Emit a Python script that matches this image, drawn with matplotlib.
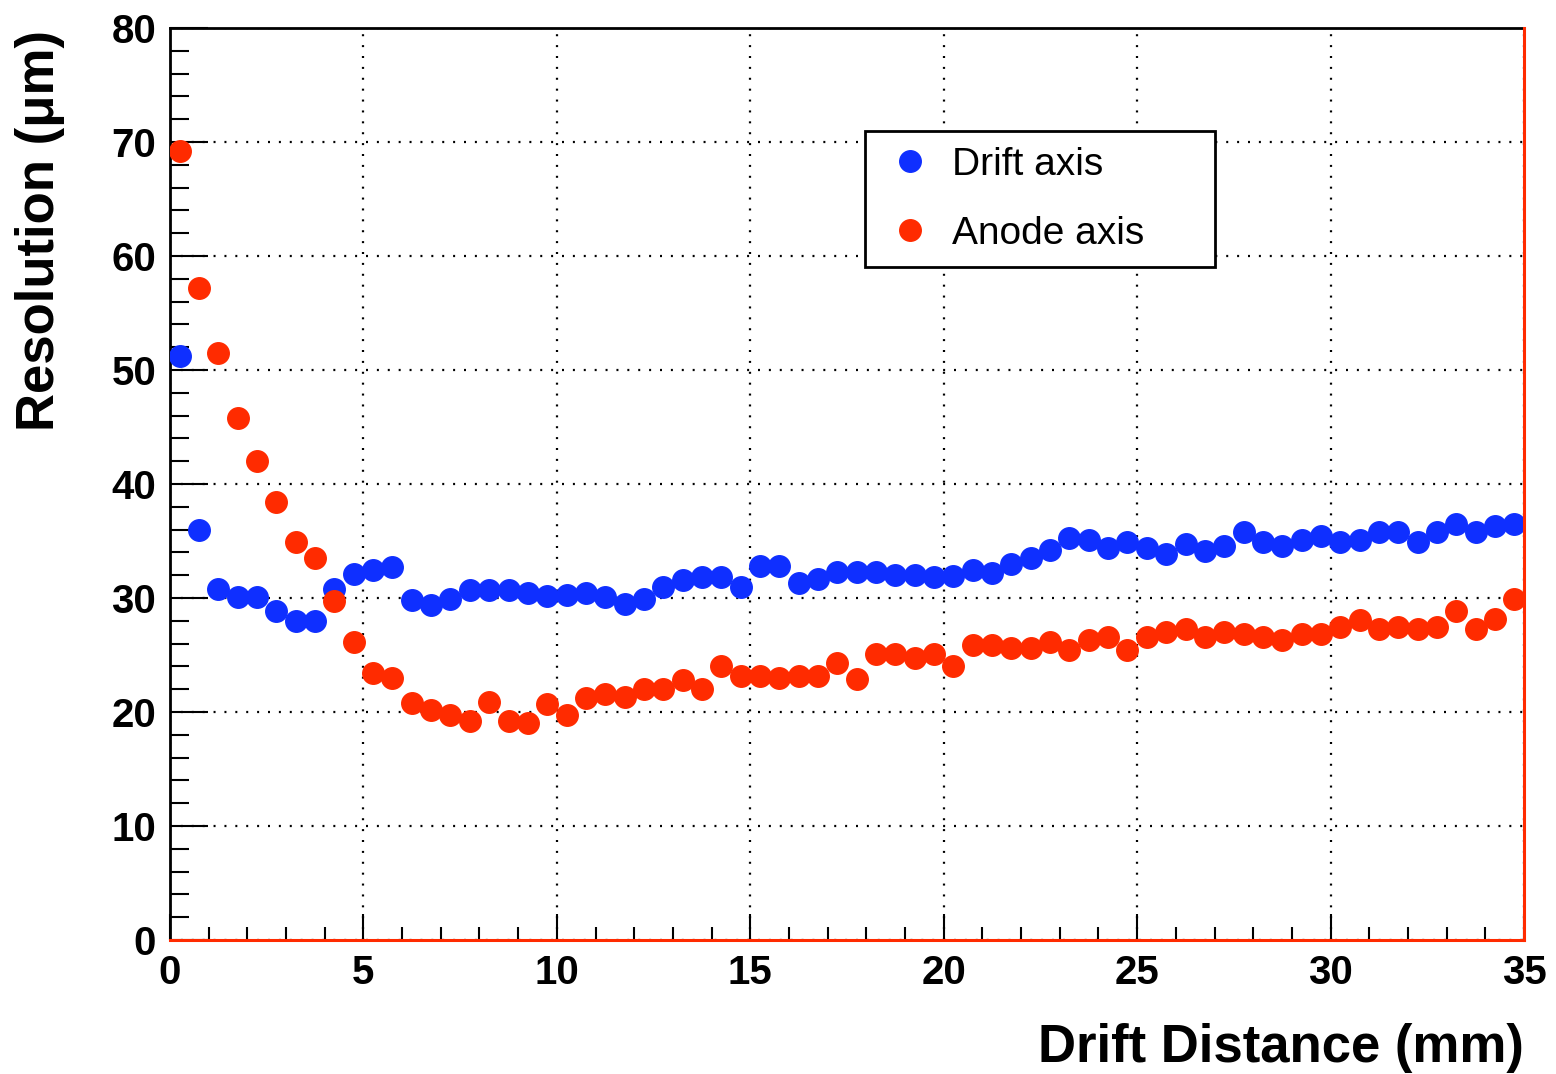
import numpy as np
import matplotlib.pyplot as plt
from matplotlib.ticker import MultipleLocator

# bin centres (mm)
distance = [0.25, 0.75, 1.25, 1.75, 2.25, 2.75, 3.25, 3.75, 4.25, 4.75,
            5.25, 5.75, 6.25, 6.75, 7.25, 7.75, 8.25, 8.75, 9.25, 9.75,
            10.25, 10.75, 11.25, 11.75, 12.25, 12.75, 13.25, 13.75, 14.25, 14.75,
            15.25, 15.75, 16.25, 16.75, 17.25, 17.75, 18.25, 18.75, 19.25, 19.75,
            20.25, 20.75, 21.25, 21.75, 22.25, 22.75, 23.25, 23.75, 24.25, 24.75,
            25.25, 25.75, 26.25, 26.75, 27.25, 27.75, 28.25, 28.75, 29.25, 29.75,
            30.25, 30.75, 31.25, 31.75, 32.25, 32.75, 33.25, 33.75, 34.25, 34.75]

# resolution along drift axis (um)
drift_res = [51.2, 36.0, 30.8, 30.1, 30.1, 28.9, 28.0, 28.0, 30.8, 32.1,
             32.5, 32.7, 29.8, 29.4, 29.9, 30.7, 30.7, 30.7, 30.4, 30.2,
             30.3, 30.4, 30.1, 29.5, 29.9, 31.0, 31.6, 31.8, 31.8, 31.0,
             32.8, 32.8, 31.3, 31.7, 32.3, 32.3, 32.3, 32.0, 32.0, 31.8,
             31.9, 32.5, 32.2, 33.0, 33.5, 34.2, 35.3, 35.1, 34.4, 34.9,
             34.4, 33.9, 34.7, 34.1, 34.6, 35.8, 34.9, 34.6, 35.1, 35.4,
             34.9, 35.1, 35.8, 35.8, 34.9, 35.8, 36.5, 35.8, 36.3, 36.5]

# resolution along anode axis (um)
anode_res = [69.2, 57.2, 51.5, 45.8, 42.0, 38.4, 34.9, 33.5, 29.7, 26.1,
             23.4, 23.0, 20.8, 20.2, 19.7, 19.2, 20.9, 19.2, 19.0, 20.7,
             19.7, 21.2, 21.6, 21.3, 22.0, 22.0, 22.8, 22.0, 24.0, 23.2,
             23.2, 23.0, 23.2, 23.2, 24.3, 22.9, 25.1, 25.1, 24.7, 25.1,
             24.0, 25.9, 25.9, 25.6, 25.6, 26.1, 25.4, 26.3, 26.6, 25.4,
             26.6, 27.0, 27.3, 26.6, 27.0, 26.8, 26.6, 26.3, 26.8, 26.8,
             27.5, 28.1, 27.3, 27.5, 27.3, 27.5, 28.9, 27.3, 28.2, 29.9]

plt.rcParams['font.family'] = ['Liberation Sans', 'DejaVu Sans']

fig = plt.figure(figsize=(15.56, 10.74), dpi=100)
ax = fig.add_axes([170/1556, 1 - 940/1074, (1524 - 170)/1556, (940 - 28)/1074])

ax.plot(distance, drift_res, 'o', color='#0f2fff', ms=15.5, mec='#0f2fff',
        label='Drift axis', zorder=3)
ax.plot(distance, anode_res, 'o', color='#ff2b00', ms=15.5, mec='#ff2b00',
        label='Anode axis', zorder=3)

ax.set_xlim(0, 35)
ax.set_ylim(0, 80)
ax.xaxis.set_major_locator(MultipleLocator(5))
ax.xaxis.set_minor_locator(MultipleLocator(1))
ax.yaxis.set_major_locator(MultipleLocator(10))
ax.yaxis.set_minor_locator(MultipleLocator(2))

ax.grid(True, which='major', color='black', lw=1.6, ls=(0, (0.9, 4.0)))
ax.set_axisbelow(True)

ax.tick_params(axis='both', which='both', direction='in', width=1.5,
               color='black', top=False, right=False)
ax.tick_params(axis='y', which='major', length=27, pad=10)
ax.tick_params(axis='y', which='minor', length=14)
ax.tick_params(axis='x', which='major', length=19, pad=10)
ax.tick_params(axis='x', which='minor', length=9.5)
for lab in ax.get_xticklabels() + ax.get_yticklabels():
    lab.set_fontsize(29)
    lab.set_fontweight('bold')

for s in ax.spines.values():
    s.set_linewidth(2)
    s.set_color('black')
# red frame lines along bottom and right edge
ax.axhline(0, color='#ff2b00', lw=2.2, zorder=4, clip_on=False)
ax.axvline(35, color='#ff2b00', lw=2.2, zorder=4, clip_on=False)

leg = ax.legend(loc='upper left', mode='expand',
                bbox_to_anchor=(865/1556, 1 - 267/1074, 350/1556, 136/1074),
                bbox_transform=fig.transFigure, borderaxespad=0,
                fontsize=28, frameon=True, fancybox=False, framealpha=1,
                edgecolor='black', numpoints=1, handlelength=1.5,
                handletextpad=0.35, borderpad=0.4, labelspacing=0.85,
                markerscale=1.0)
leg.get_frame().set_linewidth(2)

fig.text(1524/1556, 1 - 1062/1074, 'Drift Distance (mm)', ha='right',
         va='baseline', fontsize=38, fontweight='bold')
fig.text(40/1556, 1 - 30/1074, 'Resolution (\u03bcm)', ha='center', va='top',
         rotation=90, fontsize=38, fontweight='bold')

fig.savefig('out.png', dpi=100)
